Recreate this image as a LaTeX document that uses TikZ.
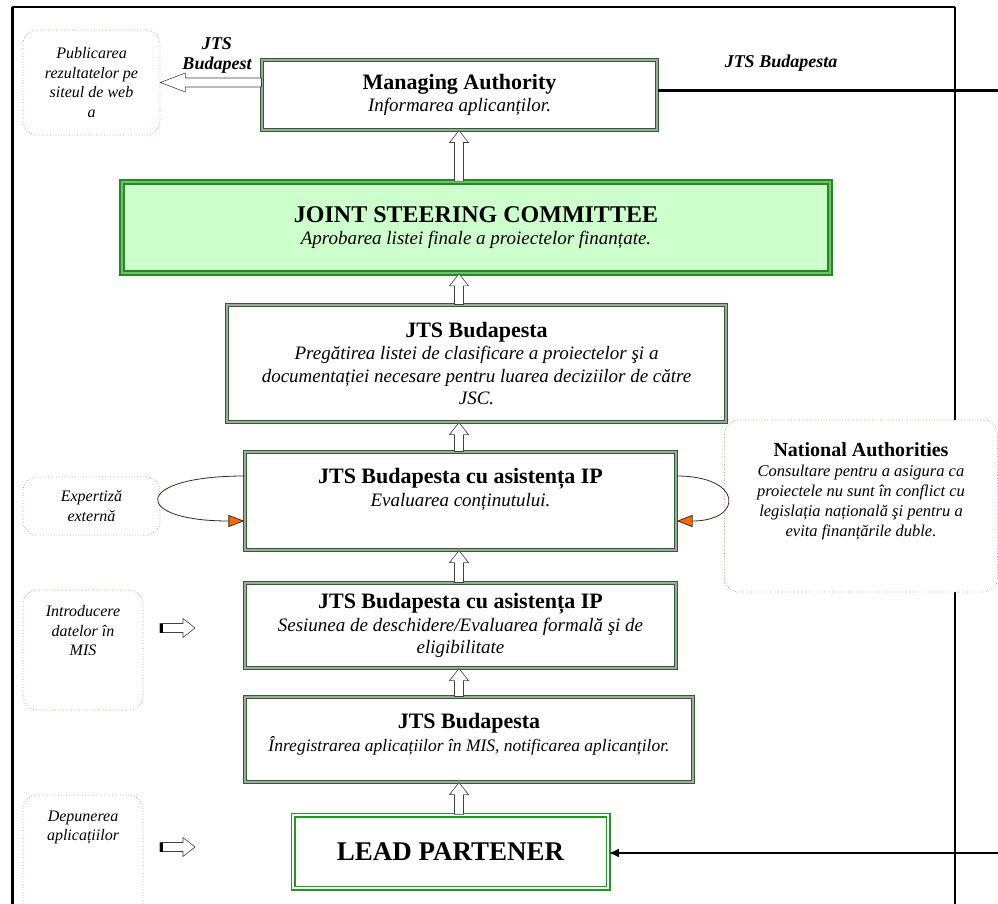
\documentclass[tikz,border=0pt]{standalone}
\usepackage{fontspec}
\setmainfont{Liberation Serif}
\usetikzlibrary{arrows.meta,calc,positioning}
\definecolor{boxgreen}{HTML}{2F5F2F}
\definecolor{boxgray}{HTML}{A0A8A0}
\definecolor{jscgreen}{HTML}{228B22}
\definecolor{jscband}{HTML}{70C070}
\definecolor{jscfill}{HTML}{CCFFCC}
\definecolor{leadgreen}{HTML}{1E9A1E}
\definecolor{notered}{HTML}{D08A8A}
\definecolor{tiporange}{HTML}{FF6A00}
\definecolor{loopbrown}{HTML}{3A2A22}

\newcommand\titlefont{\fontsize{22}{25}\selectfont\bfseries\upshape}
\newcommand\subfont{\fontsize{19}{22.5}\selectfont\itshape}
\newcommand\notefont{\fontsize{16}{19.5}\selectfont\itshape}

\tikzset{
  stepbox/.style={draw=boxgreen, double=boxgray, double distance=1.6pt, line width=1.1pt, fill=white, align=center, inner sep=0pt, font=\subfont},
  jscbox/.style={draw=jscgreen, double=jscband, double distance=2pt, line width=1.6pt, fill=jscfill, align=center, inner sep=0pt, font=\subfont},
  leadbox/.style={draw=leadgreen, double=white, double distance=1.8pt, line width=1.6pt, fill=white, align=center, inner sep=0pt},
  notebox/.style={draw=notered, dotted, line width=0.7pt, rounded corners=14pt, fill=white, align=center, inner sep=0pt, font=\notefont},
  textnode/.style={inner sep=0pt, align=center, font=\subfont},
  blockarr/.style={draw=black!75, line width=0.6pt, fill=white},
  loopline/.style={draw=loopbrown, line width=0.8pt, -{Triangle[length=16pt,width=12pt,fill=tiporange]}},
}

% hollow block arrow: [head length]{tail}{tip}
\newcommand\hollowarrow[3][12pt]{%
  \draw[blockarr] (#2) coordinate (ha-a) (#3) coordinate (ha-b)
    ($(ha-b)!#1!(ha-a)$) coordinate (ha-h)
    ($(ha-a)!4.5pt!90:(ha-b)$) -- ($(ha-h)!4.5pt!90:(ha-b)$) -- ($(ha-h)!9.5pt!90:(ha-b)$)
    -- (ha-b) -- ($(ha-h)!9.5pt!-90:(ha-b)$) -- ($(ha-h)!4.5pt!-90:(ha-b)$)
    -- ($(ha-a)!4.5pt!-90:(ha-b)$) -- cycle;}

\begin{document}
\begin{tikzpicture}[x=1pt, y=-1pt]
    \useasboundingbox (0,0) rectangle (998,904);

    % Frame
    \draw[line width=3pt] (12,904) -- (12,7);
    \draw[line width=1.3pt] (12,7) -- (955,7);
    \draw[line width=2pt] (955,7) -- (955,904);

    % Main steps
    \node[stepbox, minimum width=395pt, minimum height=70pt] (ma) at (459.5,95)
        {{\titlefont Managing Authority}\\Informarea aplicanților.};
    \node[jscbox, minimum width=708pt, minimum height=91pt] (jsc) at (476,227.5)
        {{\fontsize{24}{27}\selectfont\bfseries\upshape JOINT STEERING COMMITTEE}\\Aprobarea listei finale a proiectelor finanțate.};
    \node[stepbox, minimum width=499pt, minimum height=117pt] (rank) at (476.5,363.5)
        {{\titlefont JTS Budapesta}\\Pregătirea listei de clasificare a proiectelor şi a\\documentației necesare pentru luarea deciziilor de către\\JSC.};
    \node[stepbox, minimum width=431pt, minimum height=98pt] (content) at (460.5,501) {};
    \node[textnode, anchor=north] (contenttext) at ([yshift=-17pt]content.north)
        {{\titlefont JTS Budapesta cu asistența IP}\\Evaluarea conținutului.};
    \node[stepbox, minimum width=431pt, minimum height=85pt] (opening) at (460.5,625.5)
        {{\titlefont JTS Budapesta cu asistența IP}\\Sesiunea de deschidere/Evaluarea formală şi de\\eligibilitate};
    \node[stepbox, minimum width=448pt, minimum height=85pt] (registr) at (469,739.5) {};
    \node[textnode, anchor=north, font=\fontsize{17.5}{22.5}\selectfont\itshape] (registrtext) at ([yshift=-17pt]registr.north)
        {{\titlefont JTS Budapesta}\\Înregistrarea aplicațiilor în MIS, notificarea aplicanților.};
    \node[leadbox, minimum width=315pt, minimum height=73pt, font=\fontsize{27}{30}\selectfont\bfseries] (lead) at (450.5,851.5) {LEAD PARTENER};

    % Side notes
    \node[notebox, minimum width=137pt, minimum height=105pt] (publish) at (91.5,82.5)
        {Publicarea\\rezultatelor pe\\siteul de web\\a};
    \node[notebox, minimum width=137pt, minimum height=58pt] (expert) at (91.5,506)
        {Expertiză\\externă};
    \node[notebox, minimum width=120pt, minimum height=120pt] (intro) at (83,650) {};
    \node[textnode, anchor=north, font=\notefont] (introtext) at ([yshift=-16pt]intro.north)
        {Introducere\\datelor în\\MIS};
    \node[notebox, minimum width=120pt, minimum height=130pt] (submit) at (83,860) {};
    \node[textnode, anchor=north, font=\notefont] (submittext) at ([yshift=-16pt]submit.north)
        {Depunerea\\aplicațiilor};
    \node[notebox, minimum width=273pt, minimum height=172pt] (natauth) at (861,506) {};
    \node[textnode, anchor=north, font=\fontsize{16.5}{20}\selectfont\itshape] (natauthtext) at ([yshift=-23pt]natauth.north)
        {{\fontsize{20}{23}\selectfont\bfseries\upshape National Authorities}\\Consultare pentru a asigura ca\\proiectele nu sunt în conflict cu\\legislația națională şi pentru a\\evita finanțările duble.};

    % Labels
    \node[font=\fontsize{18}{20}\selectfont\bfseries\itshape, align=center] (publabel) at (217,55) {JTS\\Budapest};
    \node[font=\fontsize{18}{20}\selectfont\bfseries\itshape] (malabel) at (781,63) {JTS Budapesta};

    % Flow upwards
    \coordinate (spine) at (459,0);
    \hollowarrow{jsc.north -| spine}{ma.south -| spine}
    \hollowarrow{rank.north -| spine}{jsc.south -| spine}
    \hollowarrow{content.north -| spine}{rank.south -| spine}
    \hollowarrow{opening.north -| spine}{content.south -| spine}
    \hollowarrow{registr.north -| spine}{opening.south -| spine}
    \hollowarrow{lead.north -| spine}{registr.south -| spine}

    % Side arrows
    \hollowarrow[25pt]{ma.west |- publish.east}{publish.east}
    \coordinate (introtail) at (160,628);
    \coordinate (introtip) at (195,628);
    \hollowarrow{introtail}{introtip}
    \draw[line width=2.5pt] ($(introtail)+(1.3,-4.5)$) -- ($(introtail)+(1.3,4.5)$);
    \coordinate (submittail) at (160,847);
    \coordinate (submittip) at (195,847);
    \hollowarrow{submittail}{submittip}
    \draw[line width=2.5pt] ($(submittail)+(1.3,-4.5)$) -- ($(submittail)+(1.3,4.5)$);

    % Loops
    \draw[loopline] ([yshift=25pt]content.west) .. controls +(-113pt,0pt) and +(-113pt,0pt) .. ([yshift=-20pt]content.west);
    \draw[loopline] ([yshift=25pt]content.east) .. controls +(67pt,0pt) and +(67pt,0pt) .. ([yshift=-20pt]content.east);

    % Outside links
    \coordinate (maout) at (998,91);
    \draw[line width=3pt] (ma.east |- maout) -- (maout);
    \coordinate (leadin) at (998,853);
    \draw[line width=2.6pt, -{Latex[length=10pt,width=9pt]}] (leadin) -- (lead.east |- leadin);
\end{tikzpicture}
\end{document}
